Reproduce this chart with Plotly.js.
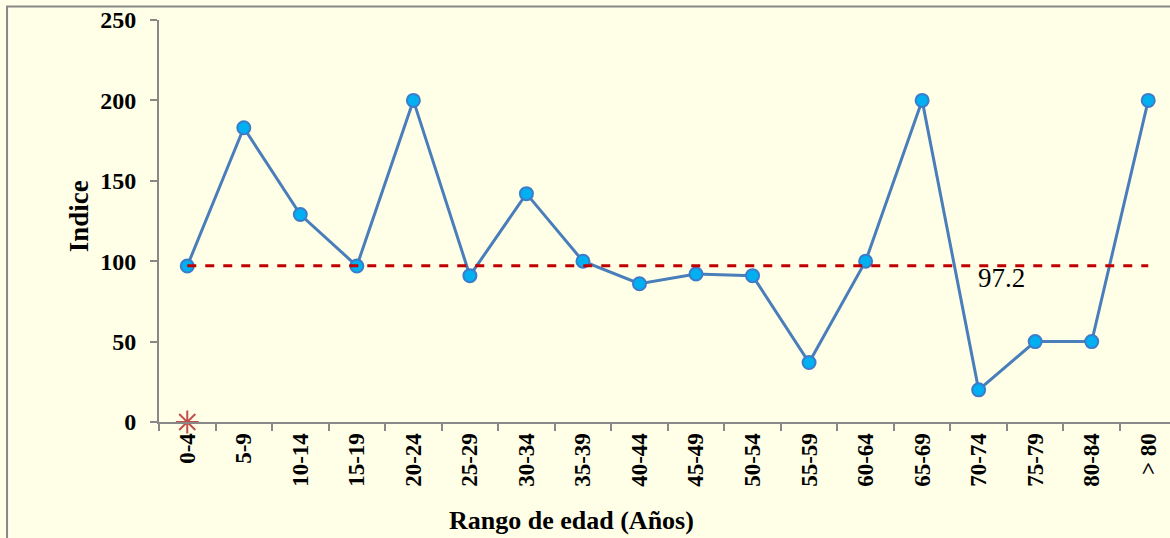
<!DOCTYPE html>
<html>
<head>
<meta charset="utf-8">
<script src="https://cdn.plot.ly/plotly-3.0.1.min.js"></script>
<style>html,body{margin:0;padding:0;background:#FFFFE8;}</style>
</head>
<body>
<div id="chart" style="width:1170px;height:538px;"></div>
<script>
const categories = ['0-4','5-9','10-14','15-19','20-24','25-29','30-34','35-39','40-44','45-49','50-54','55-59','60-64','65-69','70-74','75-79','80-84','> 80'];
const indice = [97, 183, 129, 97, 200, 91, 142, 100, 86, 92, 91, 37, 100, 200, 20, 50, 50, 200];
const referenceValue = 97.2;
const referenceLabel = '97.2';
const starCategory = ['0-4'];
const starValue = [0];

const font = 'Liberation Serif, Times New Roman, serif';
const traces = [
  {
    x: categories, y: indice,
    type: 'scatter', mode: 'lines+markers',
    line: {color: '#4A7EBB', width: 3},
    marker: {size: 13, color: '#00B0F0', line: {color: '#3D7CC9', width: 2}}
  },
  {
    x: [categories[0], categories[categories.length - 1]],
    y: [referenceValue, referenceValue],
    type: 'scatter', mode: 'lines',
    line: {color: '#C00000', width: 3, dash: 'dash'},
    hoverinfo: 'skip'
  },
  {
    x: starCategory, y: starValue,
    type: 'scatter', mode: 'markers',
    marker: {symbol: 'asterisk', size: 19, color: '#C0504D', line: {color: '#C0504D', width: 2}},
    cliponaxis: false
  }
];

const layout = {
  width: 1170, height: 538,
  margin: {l: 159, r: 0, t: 20, b: 116, pad: 0},
  paper_bgcolor: '#FFFFE8', plot_bgcolor: '#FFFFE8',
  showlegend: false,
  font: {family: font, color: '#000'},
  xaxis: {
    type: 'category', categoryorder: 'array', categoryarray: categories,
    range: [-0.5, 17.385],
    showline: true, linecolor: '#888', linewidth: 2,
    ticks: 'outside', tickson: 'boundaries', ticklen: 7, tickcolor: '#888', tickwidth: 2,
    tickangle: -90, tickfont: {family: font, size: 23, color: '#000', weight: 'bold'},
    showgrid: false, zeroline: false, fixedrange: true
  },
  yaxis: {
    range: [0, 250], tickvals: [0, 50, 100, 150, 200, 250],
    showline: true, linecolor: '#888', linewidth: 2,
    ticks: 'outside', ticklen: 7, tickcolor: '#888', tickwidth: 2, ticklabelstandoff: 9,
    tickfont: {family: font, size: 24, color: '#000', weight: 'bold'},
    showgrid: false, zeroline: false, fixedrange: true
  },
  annotations: [
    {text: referenceLabel, x: 14.4, y: 89.5, xref: 'x', yref: 'y', showarrow: false,
     font: {family: font, size: 27, color: '#000'}, xanchor: 'center', yanchor: 'middle'},
    {text: '<b>Rango de edad (Años)</b>', x: 0.4085, y: -0.2438, xref: 'paper', yref: 'paper', showarrow: false,
     font: {family: font, size: 26, color: '#000'}, xanchor: 'center', yanchor: 'middle'},
    {text: '<b>Indice</b>', x: -0.0791, y: 0.512, xref: 'paper', yref: 'paper', showarrow: false, textangle: -90,
     font: {family: font, size: 27, color: '#000'}, xanchor: 'center', yanchor: 'middle'}
  ],
  shapes: [
    {type: 'rect', xref: 'paper', yref: 'paper', x0: -0.1503, x1: 1.5, y0: -0.6, y1: 1.0336,
     line: {color: '#888', width: 2}, fillcolor: 'rgba(0,0,0,0)', layer: 'below'}
  ]
};

Plotly.newPlot('chart', traces, layout, {displayModeBar: false, staticPlot: true});
</script>
</body>
</html>
